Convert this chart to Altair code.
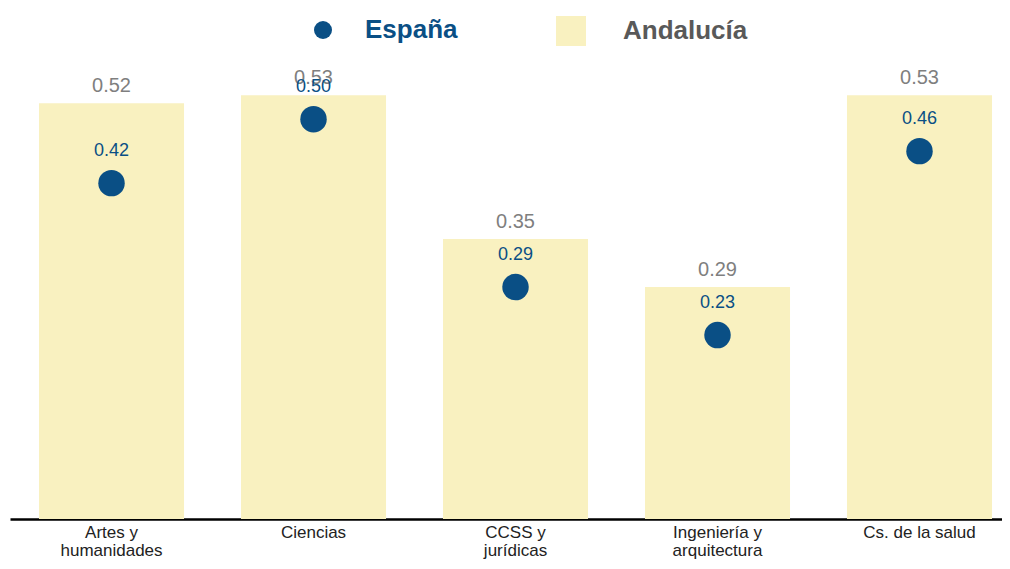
import altair as alt
import pandas as pd

categorias = ["Artes y humanidades", "Ciencias", "CCSS y jurídicas",
              "Ingeniería y arquitectura", "Cs. de la salud"]
andalucia = [0.52, 0.53, 0.35, 0.29, 0.53]
espana = [0.42, 0.50, 0.29, 0.23, 0.46]

AMARILLO = "#f9f1c0"
AZUL = "#0a4f85"
GRIS = "#7f7f7f"
FONT = "Liberation Sans"

df = pd.DataFrame({
    "cat": categorias,
    "and": andalucia,
    "esp": espana,
    "s_and": ["Andalucía"] * len(categorias),
    "s_esp": ["España"] * len(categorias),
})

label_expr = ("indexof(datum.label, ' y ') > 0 ? "
              "[slice(datum.label, 0, indexof(datum.label, ' y ') + 2), "
              "slice(datum.label, indexof(datum.label, ' y ') + 3)] : datum.label")

x = alt.X("cat:N", sort=categorias, title=None,
          scale=alt.Scale(domain=categorias, paddingInner=0.282,
                          paddingOuter=0.0965, align=0.744),
          axis=alt.Axis(labelExpr=label_expr, labelAngle=0, ticks=False,
                        labelFont=FONT, labelFontSize=17, labelColor="#222222",
                        labelPadding=5, labelLineHeight=18, labelLimit=0,
                        domainColor="#000000", domainWidth=2.5, grid=False))
yscale = alt.Scale(domain=[0, 0.639], nice=False, zero=True)

base = alt.Chart(df)

bars = base.mark_bar().encode(
    x=x,
    y=alt.Y("and:Q", scale=yscale, axis=None),
    fill=alt.Fill("s_and:N",
                  scale=alt.Scale(domain=["Andalucía"], range=[AMARILLO]),
                  legend=alt.Legend(orient="none", legendX=546, legendY=8,
                                    title=None, symbolType="square",
                                    symbolSize=900, symbolStrokeWidth=0,
                                    labelFont=FONT, labelFontSize=26,
                                    labelFontWeight="bold", labelColor="#595959",
                                    labelOffset=37, padding=0)),
)

bar_labels = base.mark_text(baseline="bottom", dy=-7, fontSize=20,
                            font=FONT, color=GRIS).encode(
    x=x,
    y=alt.Y("and:Q", scale=yscale, axis=None),
    text=alt.Text("and:Q", format=".2f"),
)

dots = base.mark_point(filled=True, size=700, opacity=1).encode(
    x=x,
    y=alt.Y("esp:Q", scale=yscale, axis=None),
    color=alt.Color("s_esp:N",
                    scale=alt.Scale(domain=["España"], range=[AZUL]),
                    legend=alt.Legend(orient="none", legendX=300, legendY=9,
                                      title=None, symbolType="circle",
                                      symbolSize=324, symbolOpacity=1,
                                      symbolStrokeWidth=0,
                                      labelFont=FONT, labelFontSize=26,
                                      labelFontWeight="bold", labelColor=AZUL,
                                      labelOffset=29, padding=0)),
)

dot_labels = base.mark_text(baseline="bottom", dy=-23, fontSize=18,
                            font=FONT, color=AZUL).encode(
    x=x,
    y=alt.Y("esp:Q", scale=yscale, axis=None),
    text=alt.Text("esp:Q", format=".2f"),
)

chart = alt.layer(bars, bar_labels, dots, dot_labels).properties(
    width=992, height=511, autosize="none",
    padding={"left": 2, "top": 0, "right": 0, "bottom": 42},
).configure_view(stroke=None)

chart.save("out.html", embed_options={"renderer": "svg", "actions": False})
